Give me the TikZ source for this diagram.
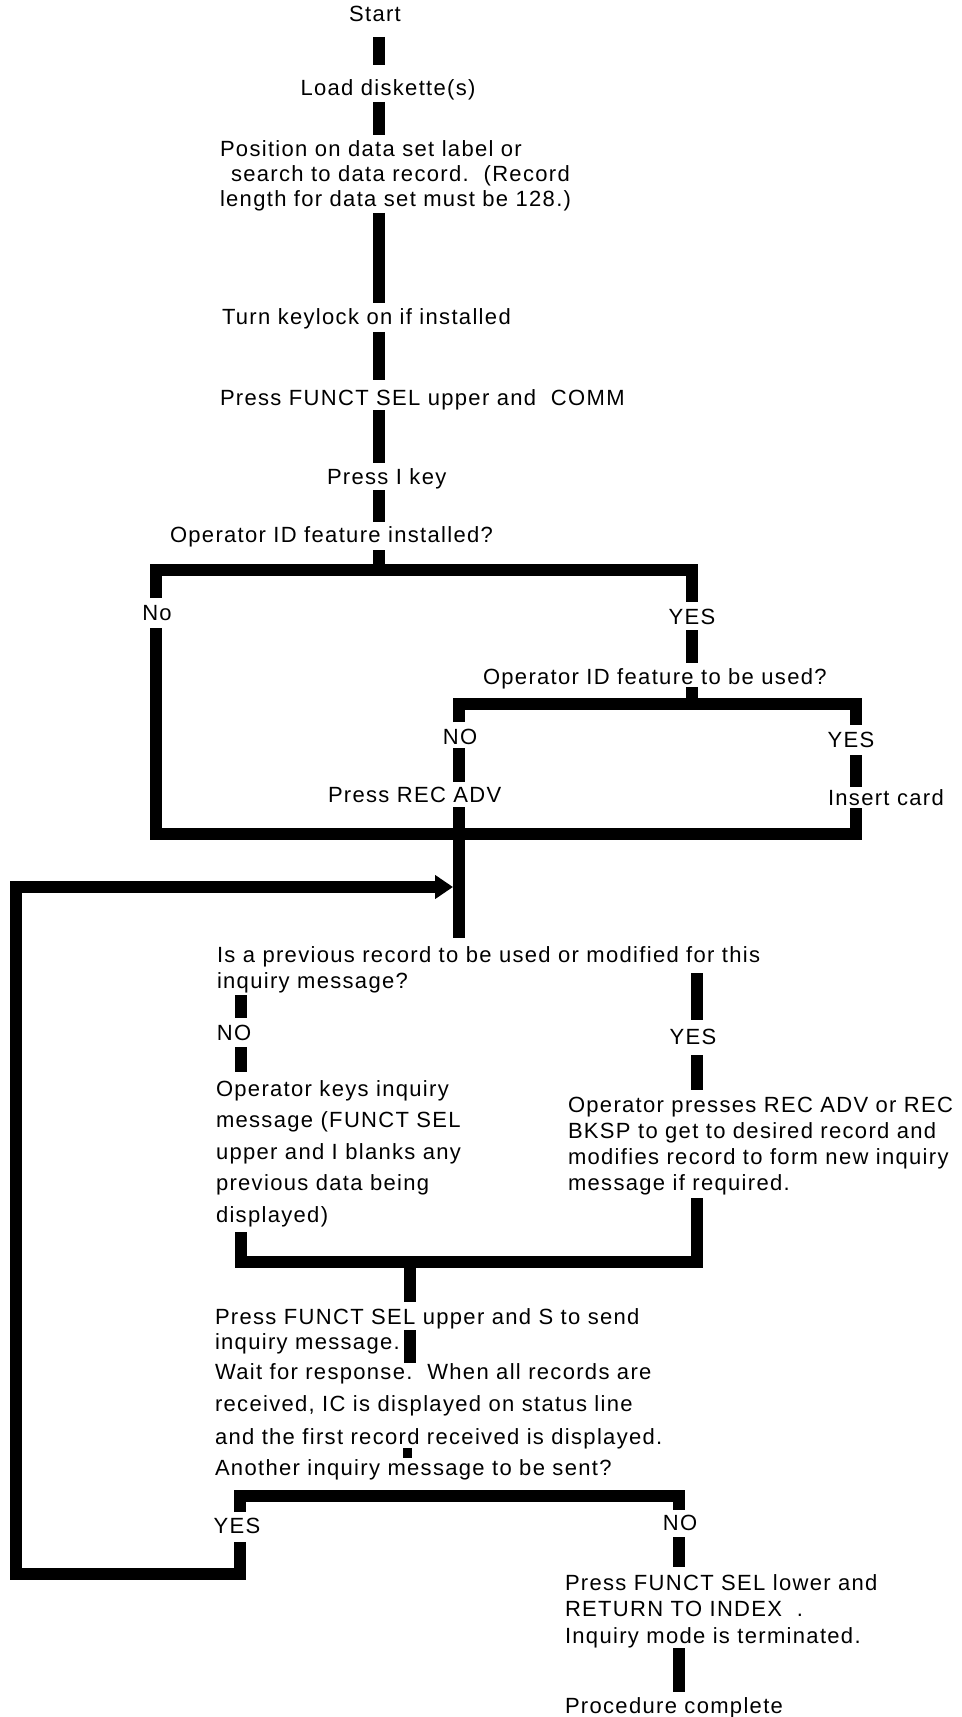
\documentclass[tikz,border=0pt]{standalone}
\usepackage{fontspec}
\setmainfont[LetterSpace=6]{Liberation Sans}
\usetikzlibrary{calc,arrows.meta}
\begin{document}
\begin{tikzpicture}[x=0.5pt,y=-0.5pt,
  txt/.style={inner sep=0pt, outer sep=0pt, font=\fontsize{11pt}{13pt}\selectfont},
  lt/.style={txt, anchor=base west, align=left},
  ct/.style={txt, anchor=base},
  bar/.style={draw=black, line width=6pt, line cap=butt, line join=miter},
  tip/.style={-{Triangle[length=9pt,width=11.5pt]}}]
\fill[white] (0,0) rectangle (962,1717);
\useasboundingbox (0,0) rectangle (962,1717);

% trunk x positions
\coordinate (tA) at (379,0);
\coordinate (tNo) at (156,0);
\coordinate (tY1) at (692,0);
\coordinate (tN2) at (459,0);
\coordinate (tY2) at (856,0);
\coordinate (tN3) at (241,0);
\coordinate (tY3) at (697,0);
\coordinate (tM) at (410,0);
\coordinate (tM2) at (407,0);
\coordinate (tY4) at (240,0);
\coordinate (tN4) at (679,0);
% junctions
\coordinate (j1) at (379,570);
\coordinate (j2) at (692,704);
\coordinate (j3) at (459,834);
\coordinate (j4) at (410,1262);
\coordinate (lc1) at (16,1574);
\coordinate (arrowend) at (453,887);

% texts (multi-line nodes are placed at the baseline of their last line)
\node[ct] (start) at (375,22) {Start};
\node[ct] (load) at (388,96) {Load diskette(s)};
\node[lt, font=\fontsize{11pt}{12.5pt}\selectfont] (pos) at (220,207)
  {Position on data set label or\\\hspace*{5.5pt}search to data record.\ \ (Record\\length for data set must be 128.)};
\node[lt] (turn) at (222,325) {Turn keylock on if installed};
\node[lt] (funct) at (220,405) {Press FUNCT SEL upper and\ \ COMM};
\node[lt] (ikey) at (327,484) {Press I key};
\node[lt] (opinst) at (170,542) {Operator ID feature installed?};
\node[ct] (no1) at (157,620) {No};
\node[ct] (yes1) at (692,624) {YES};
\node[lt] (opuse) at (483,684) {Operator ID feature to be used?};
\node[ct] (no2) at (460,744) {NO};
\node[ct] (yes2) at (851,747) {YES};
\node[lt] (recadv) at (328,802) {Press REC ADV};
\node[lt] (insert) at (828,805) {Insert card};
\node[lt, font=\fontsize{11pt}{13pt}\selectfont] (prev) at (217,988)
  {Is a previous record to be used or modified for this\\inquiry message?};
\node[ct] (no3) at (234,1040) {NO};
\node[ct] (yes3) at (693,1044) {YES};
\node[lt, font=\fontsize{11pt}{15.75pt}\selectfont] (keys) at (216,1222)
  {Operator keys inquiry\\message (FUNCT SEL\\upper and I blanks any\\previous data being\\displayed)};
\node[lt, font=\fontsize{11pt}{13pt}\selectfont] (presses) at (568,1190)
  {Operator presses REC ADV or REC\\BKSP to get to desired record and\\modifies record to form new inquiry\\message if required.};
\node[lt, font=\fontsize{11pt}{12.5pt}\selectfont] (send) at (215,1349)
  {Press FUNCT SEL upper and S to send\\inquiry message.};
\node[lt, font=\fontsize{11pt}{16.25pt}\selectfont] (wait) at (215,1444)
  {Wait for response.\ \ When all records are\\received, IC is displayed on status line\\and the first record received is displayed.};
\node[lt] (another) at (215,1475) {Another inquiry message to be sent?};
\node[ct] (yes4) at (237,1533) {YES};
\node[ct] (no4) at (680,1530) {NO};
\node[lt, font=\fontsize{11pt}{13.25pt}\selectfont] (lower) at (565,1643)
  {Press FUNCT SEL lower and\\RETURN TO INDEX\ \ .\\Inquiry mode is terminated.};
\node[lt] (done) at (565,1713) {Procedure complete};

% main trunk
\draw[bar] ($(start.base -| tA)+(0,15)$) -- ($(load.base -| tA)+(0,-31)$);
\draw[bar] ($(load.base -| tA)+(0,6)$) -- ($(pos.base -| tA)+(0,-72)$);
\draw[bar] ($(pos.base -| tA)+(0,6)$) -- ($(turn.base -| tA)+(0,-22)$);
\draw[bar] ($(turn.base -| tA)+(0,7)$) -- ($(funct.base -| tA)+(0,-25)$);
\draw[bar] ($(funct.base -| tA)+(0,5)$) -- ($(ikey.base -| tA)+(0,-21)$);
\draw[bar] ($(ikey.base -| tA)+(0,6)$) -- ($(opinst.base -| tA)+(0,-20)$);
\draw[bar] ($(opinst.base -| tA)+(0,8)$) -- (j1);

% first decision
\draw[bar] ($(no1.base -| tNo)+(0,-22)$) |- (j1) -| ($(yes1.base -| tY1)+(0,-22)$);
\draw[bar] ($(yes1.base -| tY1)+(0,6)$) -- ($(opuse.base -| tY1)+(0,-21)$);
\draw[bar] ($(opuse.base -| tY1)+(0,3)$) -- (j2);
% second decision
\draw[bar] ($(no2.base -| tN2)+(0,-22)$) |- (j2) -| ($(yes2.base -| tY2)+(0,-22)$);
\draw[bar] ($(no2.base -| tN2)+(0,4)$) -- ($(recadv.base -| tN2)+(0,-20)$);
\draw[bar] ($(yes2.base -| tY2)+(0,8)$) -- ($(insert.base -| tY2)+(0,-18)$);
% join
\draw[bar] ($(no1.base -| tNo)+(0,8)$) |- (j3) -| ($(insert.base -| tY2)+(0,3)$);
\draw[bar] ($(recadv.base -| tN2)+(0,5)$) -- ($(prev.base -| tN2)+(0,-50)$);

% previous record decision
\draw[bar] ($(prev.base -| tN3)+(0,7)$) -- ($(no3.base -| tN3)+(0,-22)$);
\draw[bar] ($(no3.base -| tN3)+(0,7)$) -- ($(keys.base -| tN3)+(0,-150)$);
\draw[bar] ($(prev.base -| tY3)+(0,-15)$) -- ($(yes3.base -| tY3)+(0,-24)$);
\draw[bar] ($(yes3.base -| tY3)+(0,11)$) -- ($(presses.base -| tY3)+(0,-100)$);
\draw[bar] ($(keys.base -| tN3)+(0,10)$) |- (j4) -| ($(presses.base -| tY3)+(0,8)$);
\draw[bar] (j4) -- ($(send.base -| tM)+(0,-47)$);
\draw[bar] ($(send.base -| tM)+(0,-19)$) -- ($(wait.base -| tM)+(0,-81)$);
\draw[bar, line width=4.5pt] ($(wait.base -| tM2)+(0,4)$) -- ($(another.base -| tM2)+(0,-17)$);

% another message decision
\draw[bar] ($(yes4.base -| tY4)+(0,-21)$) |- ($(no4.base -| tN4)+(0,-34)$) -- ($(no4.base -| tN4)+(0,-20)$);
\draw[bar] ($(no4.base -| tN4)+(0,7)$) -- ($(lower.base -| tN4)+(0,-76)$);
\draw[bar] ($(lower.base -| tN4)+(0,5)$) -- ($(done.base -| tN4)+(0,-21)$);
% loop back
\draw[bar, tip] ($(yes4.base -| tY4)+(0,9)$) |- (lc1) |- (arrowend);
\end{tikzpicture}
\end{document}
